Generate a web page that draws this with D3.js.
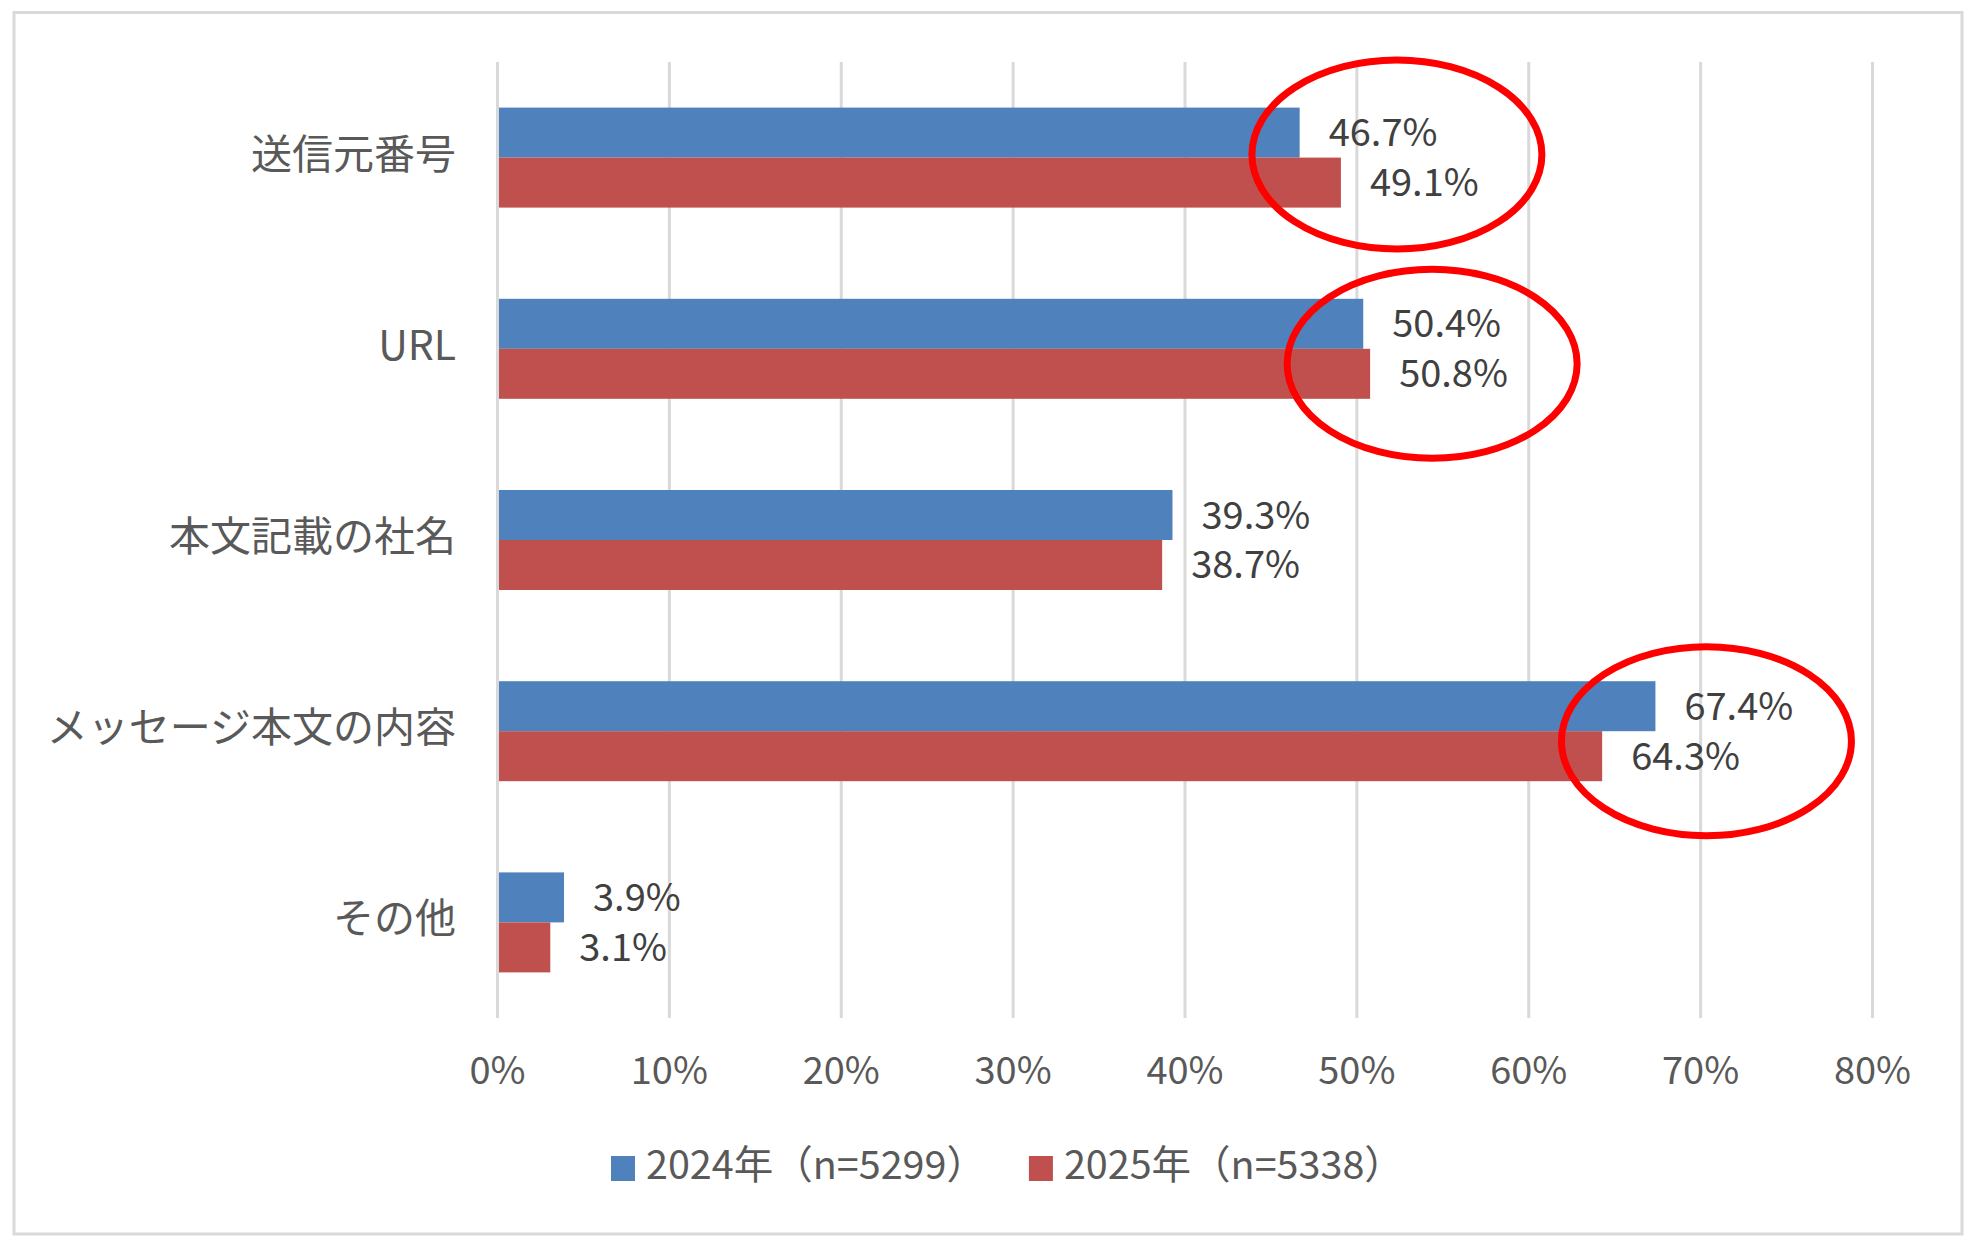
<!DOCTYPE html>
<html>
<head>
<meta charset="utf-8">
<script src="https://cdn.jsdelivr.net/npm/d3@7"></script>
<style>
  body { margin: 0; background: #fff; }
  text { font-family: "Noto Sans CJK JP", "Noto Sans", sans-serif; }
</style>
</head>
<body>
<script>
// data
var categories = ["送信元番号", "URL", "本文記載の社名", "メッセージ本文の内容", "その他"];
var seriesNames = ["2024年（n=5299）", "2025年（n=5338）"];
var values2024 = [0.467, 0.504, 0.393, 0.674, 0.039];
var values2025 = [0.491, 0.508, 0.387, 0.643, 0.031];
var xTicks = [0, 0.1, 0.2, 0.3, 0.4, 0.5, 0.6, 0.7, 0.8];
// red circles drawn over some labels (category, nudge from label area)
var highlights = ["送信元番号", "URL", "メッセージ本文の内容"];
var highlightNudge = [[56, -3], [62, 15], [51, 10]];

var colors = ["#4f81bd", "#c0504d"];

var w = 1974, h = 1246;

var svg = d3.select("body").append("svg")
    .attr("width", w)
    .attr("height", h);

// outer frame
svg.append("rect")
    .attr("x", 14).attr("y", 12.5)
    .attr("width", 1948).attr("height", 1221.5)
    .attr("fill", "#fff")
    .attr("stroke", "#d9d9d9")
    .attr("stroke-width", 3);

var plotTop = 62, plotBottom = 1018;

var x = d3.scaleLinear()
    .domain([0, 0.8])
    .range([497, 1872]);

var y = d3.scaleBand()
    .domain(categories)
    .range([plotTop, plotBottom])
    .paddingInner(0.477)
    .paddingOuter(0.2385);

var y1 = d3.scaleBand()
    .domain([0, 1])
    .range([0, y.bandwidth()]);

var rows = categories.map(function(c, i) {
  return { cat: c, vals: [values2024[i], values2025[i]] };
});

// grid + x labels
var xAxis = svg.append("g")
    .attr("transform", "translate(0," + plotBottom + ")")
    .call(d3.axisBottom(x)
      .tickValues(xTicks)
      .tickFormat(d3.format(".0%"))
      .tickSizeInner(-(plotBottom - plotTop))
      .tickSizeOuter(0)
      .tickPadding(39));
xAxis.select(".domain").remove();
xAxis.selectAll("line")
    .attr("stroke", "#d9d9d9")
    .attr("stroke-width", 3);
xAxis.selectAll("text")
    .attr("font-size", 38)
    .attr("fill", "#595959");

// category labels
var yAxis = svg.append("g")
    .attr("transform", "translate(497,0)")
    .call(d3.axisLeft(y).tickSize(0).tickPadding(41));
yAxis.select(".domain").remove();
yAxis.selectAll("text")
    .attr("font-size", 41)
    .attr("fill", "#595959")
    .attr("dy", -7)
    .attr("dominant-baseline", "central");

// bars
var groups = svg.append("g").selectAll("g")
    .data(rows)
  .enter().append("g")
    .attr("transform", function(d) { return "translate(0," + y(d.cat) + ")"; });

groups.selectAll("rect")
    .data(function(d) { return d.vals; })
  .enter().append("rect")
    .attr("x", x(0) + 2)
    .attr("y", function(d, i) { return y1(i); })
    .attr("width", function(d) { return x(d) - x(0) - 2; })
    .attr("height", y1.bandwidth())
    .attr("fill", function(d, i) { return colors[i]; });

groups.selectAll("text")
    .data(function(d) { return d.vals; })
  .enter().append("text")
    .attr("x", function(d) { return x(d) + 29; })
    .attr("y", function(d, i) { return y1(i) + y1.bandwidth() / 2 - 3; })
    .attr("dominant-baseline", "central")
    .attr("font-size", 38)
    .attr("fill", "#404040")
    .text(function(d) { return d3.format(".1%")(d); });

// red ellipses
svg.append("g").selectAll("ellipse")
    .data(highlights)
  .enter().append("ellipse")
    .attr("cx", function(c, i) {
      var r = rows[categories.indexOf(c)];
      return x(d3.max(r.vals)) + highlightNudge[i][0];
    })
    .attr("cy", function(c, i) { return y(c) + y.bandwidth() / 2 + highlightNudge[i][1]; })
    .attr("rx", 145)
    .attr("ry", 94.5)
    .attr("fill", "none")
    .attr("stroke", "#ff0000")
    .attr("stroke-width", 7);

// legend
var legend = svg.append("g");
var lx = 0;
seriesNames.forEach(function(name, i) {
  var g = legend.append("g").attr("transform", "translate(" + lx + ",0)");
  g.append("rect")
    .attr("x", 0).attr("y", -12.5)
    .attr("width", 24).attr("height", 25)
    .attr("fill", colors[i]);
  var t = g.append("text")
    .attr("x", 35).attr("y", -7)
    .attr("dominant-baseline", "central")
    .attr("font-size", 39.5)
    .attr("fill", "#595959")
    .text(name);
  lx += 35 + t.node().getComputedTextLength() + 43;
});
legend.attr("transform", "translate(611,1168.5)");
</script>
</body>
</html>
